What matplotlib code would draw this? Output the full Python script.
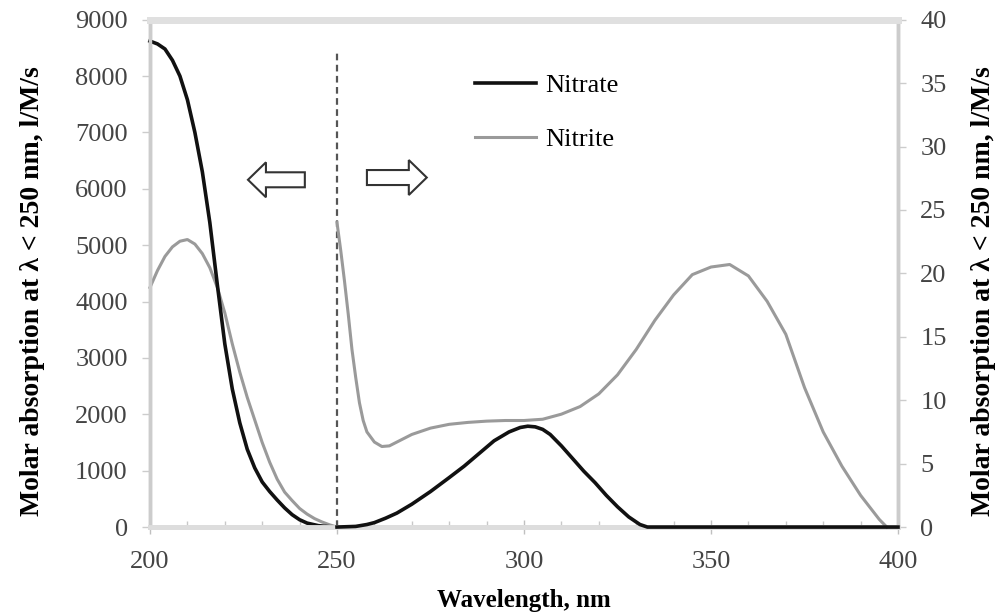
import matplotlib
matplotlib.use("Agg")
from matplotlib import pyplot as plt
from matplotlib.patches import FancyArrow

plt.rcParams['font.family'] = ['Liberation Serif', 'DejaVu Serif']

# below 250 nm (left axis, l/M/s)
wl_short = [200, 202, 204, 206, 208, 210, 212, 214, 216, 218, 220, 222, 224,
            226, 228, 230, 232, 234, 236, 238, 240, 242, 245, 248, 250]
nitrate_short = [8620, 8570, 8480, 8280, 8000, 7580, 7000, 6300, 5400, 4300,
                 3250, 2450, 1850, 1380, 1050, 800, 630, 480, 340, 220, 130,
                 70, 25, 5, 0]
wl_short2 = [200, 202, 204, 206, 208, 210, 212, 214, 216, 218, 220, 222, 224,
             226, 228, 230, 232, 234, 236, 238, 240, 242, 244, 246, 248, 250]
nitrite_short = [4250, 4550, 4800, 4970, 5070, 5100, 5020, 4850, 4600, 4250,
                 3800, 3250, 2750, 2300, 1900, 1500, 1150, 850, 620, 470, 330,
                 230, 150, 90, 40, 0]

# above 250 nm (right axis)
wl_nitrite = [250, 251, 252, 253, 254, 255, 256, 257, 258, 260, 262, 264, 266,
              268, 270, 275, 280, 285, 290, 295, 300, 305, 310, 315, 320, 325,
              330, 335, 340, 345, 350, 355, 360, 365, 370, 375, 380, 385, 390,
              395, 397]
nitrite_long = [24.0, 21.8, 19.4, 16.8, 14, 11.8, 9.8, 8.4, 7.5, 6.7, 6.35, 6.4,
                6.7, 7.0, 7.3, 7.8, 8.1, 8.25, 8.35, 8.4, 8.4, 8.5, 8.9, 9.5,
                10.5, 12.0, 14.0, 16.3, 18.3, 19.9, 20.5, 20.7, 19.8, 17.8,
                15.2, 11.0, 7.5, 4.8, 2.5, 0.6, 0]
wl_nitrate = [250, 255, 258, 260, 263, 266, 270, 275, 280, 284, 288, 292, 296,
              299, 301, 303, 305, 307, 310, 313, 316, 319, 322, 325, 328, 331,
              333, 400]
nitrate_long = [0, 0.05, 0.2, 0.35, 0.7, 1.1, 1.8, 2.8, 3.9, 4.8, 5.8, 6.8,
                7.5, 7.85, 7.95, 7.9, 7.7, 7.3, 6.4, 5.4, 4.4, 3.5, 2.5, 1.6,
                0.8, 0.2, 0, 0]

black = '#111111'
grey = '#9a9a9a'
tickcol = '#444444'
ylab = 'Molar absorption at λ < 250 nm, l/M/s'

fig = plt.figure(figsize=(10, 6.15), dpi=100)
ax = fig.add_axes([0.15, 0.143, 0.748, 0.825])
ax2 = ax.twinx()

l1, = ax.plot(wl_short, nitrate_short, color=black, lw=2.6, label='Nitrate', clip_on=False, zorder=5)
l2, = ax.plot(wl_short2, nitrite_short, color=grey, lw=2.2, label='Nitrite', clip_on=False, zorder=4)
ax2.plot(wl_nitrite, nitrite_long, color=grey, lw=2.2, clip_on=False, zorder=4)
ax2.plot(wl_nitrate, nitrate_long, color=black, lw=2.6, clip_on=False, zorder=5)

ax.set_xlim(200, 400)
ax.set_ylim(0, 9000)
ax2.set_ylim(0, 40)
ax.set_xticks(range(200, 401, 50))
ax.set_xticks(range(200, 401, 10), minor=True)
ax.set_yticks(range(0, 9001, 1000))
ax2.set_yticks(range(0, 41, 5))

ax.axvline(250, ymin=0, ymax=0.935, color='#555555', lw=1.6, linestyle=(0, (3, 2)))

for a in (ax, ax2):
    for s in a.spines.values():
        s.set_color('#cccccc')
        s.set_linewidth(2.5)
    a.spines['top'].set_color('#e0e0e0')
    a.spines['top'].set_linewidth(5)
    a.spines['bottom'].set_color('#dddddd')
    a.spines['bottom'].set_linewidth(3.5)

ax.tick_params(axis='y', direction='out', length=6, width=1, color='#cccccc',
               labelsize=19, labelcolor=tickcol, pad=10)
ax2.tick_params(axis='y', direction='out', length=6, width=1, color='#cccccc',
                labelsize=19, labelcolor=tickcol, pad=10)
ax.tick_params(axis='x', which='major', direction='inout', length=10, width=1,
               color='#c0c0c0', labelsize=19, labelcolor=tickcol, pad=12)
ax.tick_params(axis='x', which='minor', direction='in', length=4, width=1,
               color='#c8c8c8')

ax.set_xlabel('Wavelength, nm', fontsize=18, fontweight='bold')
ax.set_ylabel(ylab, fontsize=20, fontweight='bold')
ax2.set_ylabel(ylab, fontsize=20, fontweight='bold')
ax.xaxis.set_label_coords(0.5, -0.122)
ax.yaxis.set_label_coords(-0.14, 0.465)
ax2.yaxis.set_label_coords(1.097, 0.465)

# hollow arrows pointing to the axis each side belongs to
arrow_kw = dict(width=266, head_width=620, head_length=4.8,
                length_includes_head=True, fc='white', ec='#333333', lw=1.5,
                zorder=6)
ax.add_patch(FancyArrow(241.4, 6160, -15.2, 0, **arrow_kw))
ax.add_patch(FancyArrow(258.0, 6200, 16.0, 0, **arrow_kw))

ax.legend(handles=[l1, l2], loc='upper left', bbox_to_anchor=(0.4345, 0.893),
          frameon=False, fontsize=19, handlelength=2.3, handletextpad=0.35,
          labelspacing=1.15, borderpad=0, borderaxespad=0)

fig.savefig('out.png', dpi=100)
